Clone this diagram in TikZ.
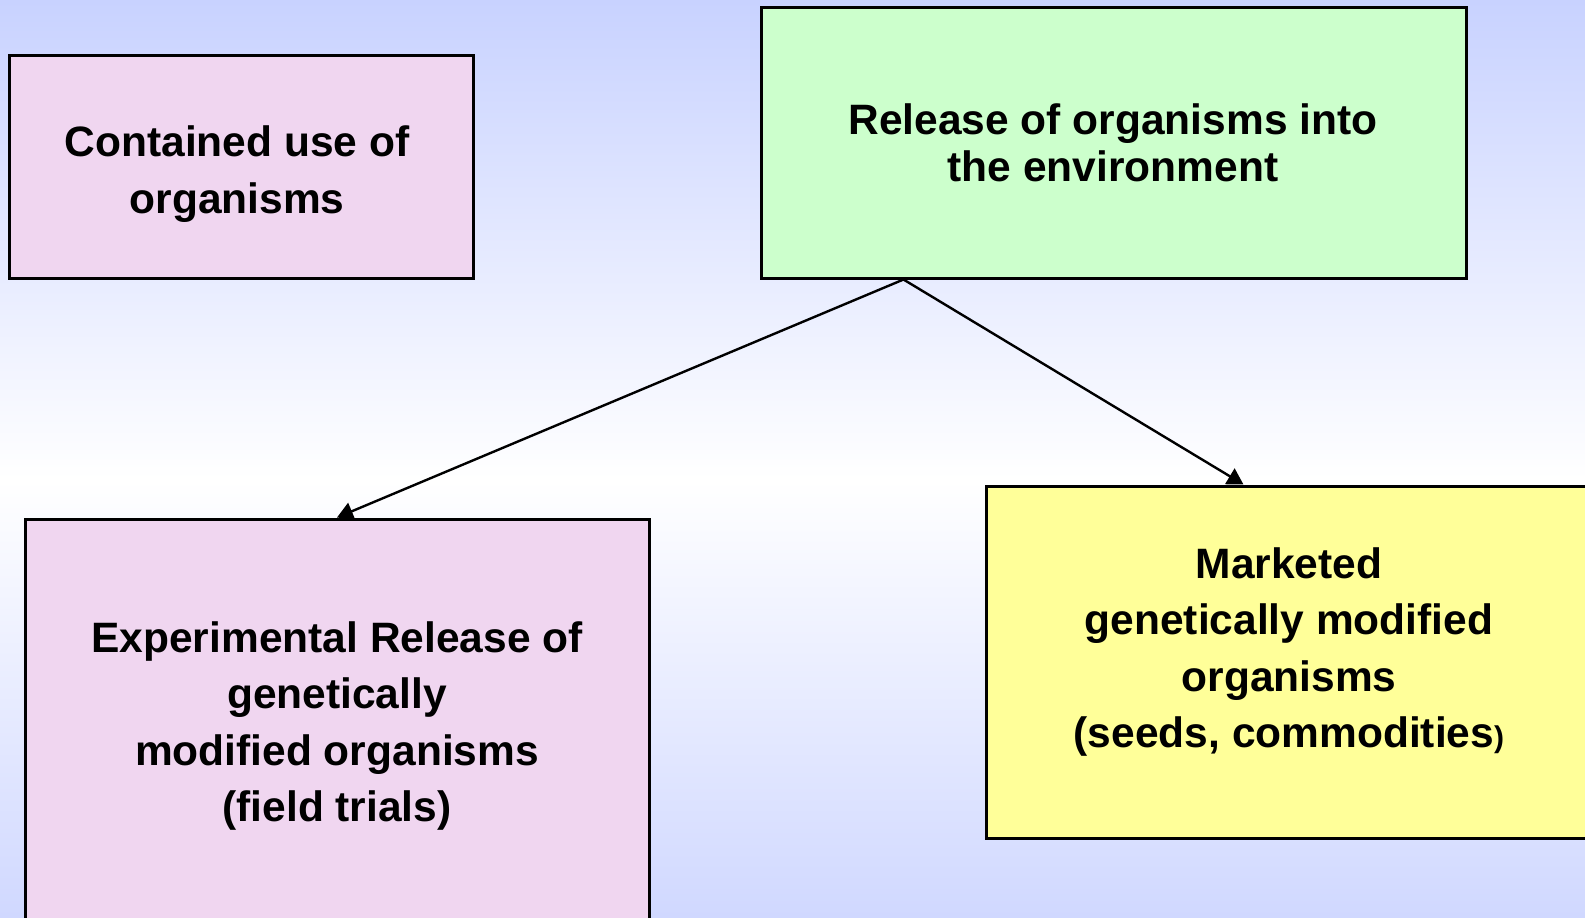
\documentclass[tikz,border=0pt]{standalone}
\usepackage{fontspec}
\setmainfont{Liberation Sans}
\usetikzlibrary{arrows.meta,calc}

\definecolor{bgblue}{RGB}{200,210,255}
\definecolor{bgblueb}{RGB}{208,216,255}
\definecolor{pinkfill}{RGB}{240,214,240}
\definecolor{greenfill}{RGB}{204,255,204}
\definecolor{yellowfill}{RGB}{255,255,153}

\tikzset{
  box/.style={draw=black, line width=1.5pt, inner sep=0pt},
  lbl/.style={align=center, font=\fontsize{21.25}{28.3}\selectfont\bfseries},
  link/.style={line width=1.2pt, -{Triangle[length=8pt,width=9pt]}}
}

\begin{document}
\begin{tikzpicture}[x=0.5pt,y=-0.5pt]
        \useasboundingbox (0,0) rectangle (1585,917);
        \shade[top color=bgblue, bottom color=white] (0,0) rectangle (1585,480);
        \shade[top color=white, bottom color=bgblueb] (0,480) rectangle (1585,917);
        % boxes
        \node[box, fill=pinkfill, minimum width=232pt, minimum height=111.5pt](contained) at (241,166.5) {};
        \node[box, fill=greenfill, minimum width=352.5pt, minimum height=135.5pt](release) at (1113.5,142.5) {};
        \node[box, fill=pinkfill, minimum width=312pt, minimum height=220pt](exper) at (337,739) {};
        \node[box, fill=yellowfill, minimum width=360pt, minimum height=176pt](market) at (1346,662) {};
        % texts
        \node[lbl](containedText) at (237,174) {Contained use of\\organisms};
        \node[lbl, font=\fontsize{21.25}{23.25}\selectfont\bfseries](releaseText) at (1113,143) {Release of organisms into\\the environment};
        \node[lbl](experText) at (337,726) {Experimental Release of\\genetically\\modified organisms\\(field trials)};
        \node[lbl](marketText) at (1289,652) {Marketed\\genetically modified\\organisms\\(seeds, commodities{\fontsize{15}{18}\selectfont)}};
        % arrows
        \coordinate(fork) at ($(release.south west)+(144,0)$);
        \draw[link](fork)--(exper.north);
        \draw[link](fork)--($(market.north west)+(259,0)$);
        \end{tikzpicture}
\end{document}
